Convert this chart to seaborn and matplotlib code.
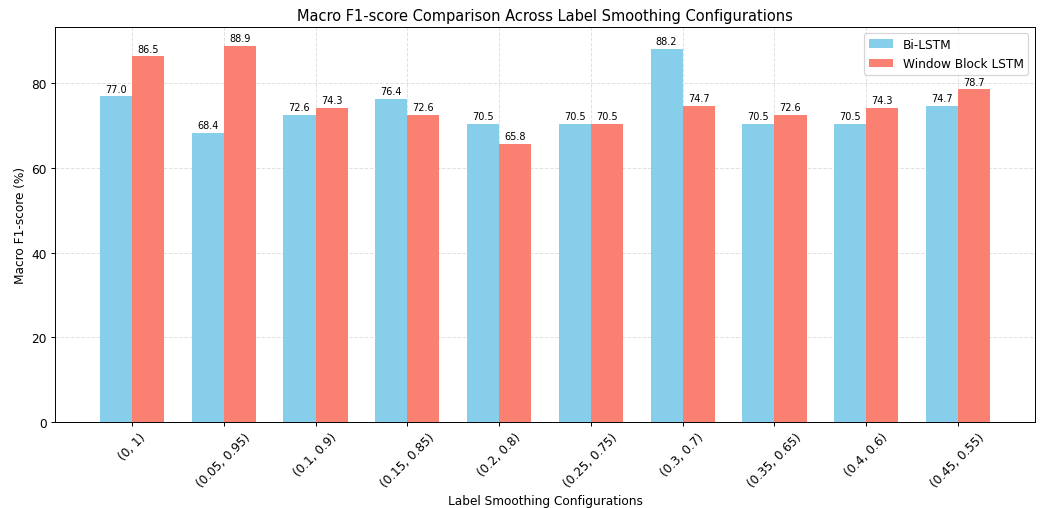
import pandas as pd
import matplotlib
matplotlib.use('Agg')
import matplotlib.pyplot as plt
import seaborn as sns

configs = ['(0, 1)', '(0.05, 0.95)', '(0.1, 0.9)', '(0.15, 0.85)', '(0.2, 0.8)',
           '(0.25, 0.75)', '(0.3, 0.7)', '(0.35, 0.65)', '(0.4, 0.6)', '(0.45, 0.55)']
bilstm = [77.0, 68.4, 72.6, 76.4, 70.5, 70.5, 88.2, 70.5, 70.5, 74.7]
window_lstm = [86.5, 88.9, 74.3, 72.6, 65.8, 70.5, 74.7, 72.6, 74.3, 78.7]
models = ['Bi-LSTM', 'Window Block LSTM']

df = pd.DataFrame({
    'config': configs * 2,
    'score': bilstm + window_lstm,
    'model': [models[0]] * len(configs) + [models[1]] * len(configs),
})

sns.set_style('ticks')
plt.rcParams['font.family'] = ['DejaVu Sans']
plt.rcParams['text.color'] = 'black'
plt.rcParams['axes.labelcolor'] = 'black'
plt.rcParams['xtick.color'] = 'black'
plt.rcParams['ytick.color'] = 'black'

fig, ax = plt.subplots(figsize=(1045 / 87.5, 509 / 87.5), dpi=87.5)
sns.barplot(data=df, x='config', y='score', hue='model', order=configs,
            hue_order=models, palette=['skyblue', 'salmon'], width=0.7,
            saturation=1, linewidth=0, ax=ax)

for container in ax.containers:
    ax.bar_label(container, fmt='%.1f', fontsize=8, padding=2)

ax.set_title('Macro F1-score Comparison Across Label Smoothing Configurations', fontsize=12)
ax.set_xlabel('Label Smoothing Configurations')
ax.set_ylabel('Macro F1-score (%)')
ax.set_ylim(0, max(bilstm + window_lstm) * 1.05)
ax.set_xlim(-0.835, 9.835)
ax.tick_params(axis='x', rotation=45)
ax.grid(True, linestyle='--', alpha=0.6)
ax.set_axisbelow(True)
for s in ax.spines.values():
    s.set_visible(True)
    s.set_color('black')
    s.set_linewidth(0.8)
ax.legend(title=None, loc='upper right')

fig.subplots_adjust(left=0.053, right=0.99, top=0.945, bottom=0.169)
plt.savefig('out.png', dpi=87.5)
